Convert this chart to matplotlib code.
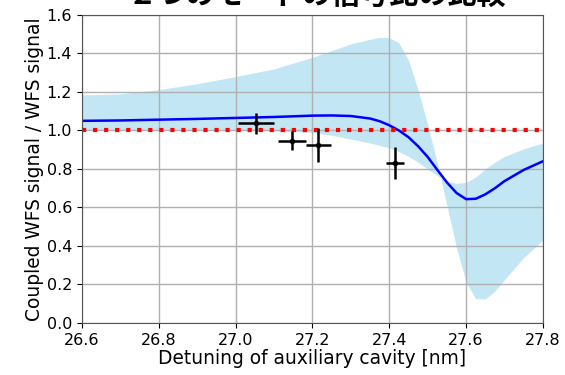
import matplotlib
matplotlib.use('Agg')
import matplotlib.pyplot as plt

plt.rcParams['font.family'] = ['DejaVu Sans', 'Noto Sans CJK JP']

# 計算値（帯と中心線）
detuning = [26.6, 26.7, 26.8, 26.9, 27.0, 27.1, 27.2, 27.25, 27.3, 27.35, 27.375,
            27.4, 27.425, 27.45, 27.475, 27.5, 27.525, 27.55, 27.575, 27.6,
            27.625, 27.65, 27.675, 27.7, 27.75, 27.8]
ratio_mid = [1.05, 1.052, 1.056, 1.06, 1.065, 1.07, 1.077, 1.078, 1.075, 1.062, 1.048,
             1.027, 1.0, 0.965, 0.918, 0.862, 0.795, 0.73, 0.675, 0.643,
             0.645, 0.668, 0.70, 0.737, 0.795, 0.84]
ratio_upper = [1.185, 1.19, 1.212, 1.243, 1.28, 1.32, 1.38, 1.415, 1.45, 1.474, 1.484,
               1.482, 1.455, 1.365, 1.21, 1.03, 0.83, 0.61, 0.39, 0.21,
               0.125, 0.125, 0.165, 0.225, 0.34, 0.43]
ratio_lower = [1.0, 1.0, 1.0, 1.0, 1.0, 0.998, 0.99, 0.975, 0.955, 0.935, 0.922,
               0.91, 0.89, 0.865, 0.835, 0.80, 0.765, 0.735, 0.725, 0.73,
               0.758, 0.80, 0.835, 0.865, 0.905, 0.935]

# 測定値
meas_x = [27.053, 27.147, 27.215, 27.414]
meas_y = [1.037, 0.947, 0.925, 0.83]
meas_xerr = [0.046, 0.037, 0.032, 0.023]
meas_yerr = [0.054, 0.048, 0.09, 0.082]

fig = plt.figure(figsize=(5.65, 3.75), dpi=100)
ax = fig.add_axes([0.145, 0.139, 0.816, 0.821])

ax.fill_between(detuning, ratio_lower, ratio_upper, color='skyblue', alpha=0.5, lw=0)
ax.plot(detuning, ratio_mid, color='blue', lw=1.8)
ax.axhline(1.0, color='red', ls=':', lw=3)
ax.errorbar(meas_x, meas_y, xerr=meas_xerr, yerr=meas_yerr, fmt='.', color='black',
            ms=6, elinewidth=1.8, capsize=0)

ax.set_xlim(26.6, 27.8)
ax.set_ylim(0, 1.6)
ax.set_xticks([26.6, 26.8, 27.0, 27.2, 27.4, 27.6, 27.8])
ax.set_yticks([0.0, 0.2, 0.4, 0.6, 0.8, 1.0, 1.2, 1.4, 1.6])
ax.tick_params(labelsize=11.5)
ax.grid(True, color='#b0b0b0', lw=1)
for s in ax.spines.values():
    s.set_color('#555555')
ax.set_xlabel('Detuning of auxiliary cavity [nm]', fontsize=13.4, labelpad=1)
ax.set_ylabel('Coupled WFS signal / WFS signal', fontsize=13.4, labelpad=2)

# タイトル（上端で切れている）
fig.text(0.562, 0.972, '２つのモードの信号比の比較', fontsize=21, fontweight='bold',
         ha='center', va='bottom', family=['Noto Sans CJK JP', 'DejaVu Sans'])

fig.savefig('out.png', dpi=100)
